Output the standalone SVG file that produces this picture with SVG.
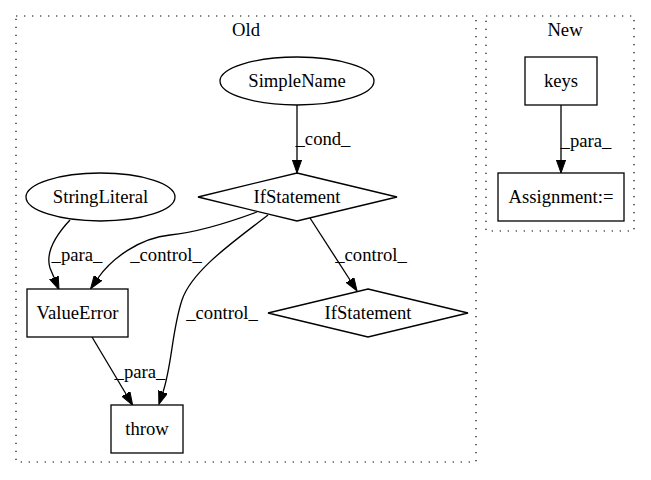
<svg xmlns="http://www.w3.org/2000/svg" width="651" height="480" viewBox="0 0 651 480">
<defs>
<marker id="arr" markerUnits="userSpaceOnUse" markerWidth="14" markerHeight="10" refX="0" refY="5" orient="auto" viewBox="0 0 14 10">
<path d="M0,0.4 L13,5 L0,9.6 z" fill="#000" stroke="#000" stroke-width="1"/>
</marker>
</defs>
<style>
.cl{fill:none;stroke:#000;stroke-width:1.2;stroke-dasharray:1.3,6.7}
.n{fill:#fff;stroke:#000;stroke-width:1.3}
.e{fill:none;stroke:#000;stroke-width:1.3;marker-end:url(#arr)}
</style>
<rect width="651" height="480" fill="#fff"/>
<g font-family="'Liberation Serif', 'Times New Roman', 'DejaVu Serif', serif" font-size="18.67" font-weight="normal" text-anchor="middle" fill="#000">
<g id="cluster_old">
<rect class="cl" x="16" y="16" width="460" height="446"/>
<text x="246" y="36">Old</text>
</g>
<g id="cluster_new">
<rect class="cl" x="486" y="16" width="148" height="215"/>
<text x="565" y="36">New</text>
</g>
<g id="edges">
<path class="e" d="M297,105 L297,160"/>
<text x="323" y="145">_cond_</text>
<path class="e" d="M70,220 C56,235 45,252 50,268 L54,277.6"/>
<text x="77" y="261">_para_</text>
<path class="e" d="M257,212 C230,222 200,232 170,235 C140,238 112,258 98,278"/>
<text x="166" y="261">_control_</text>
<path class="e" d="M268,215 C236,240 192,270 182,300 C172,330 172,365 163,392"/>
<text x="222" y="319">_control_</text>
<path class="e" d="M310,218 L350,280"/>
<text x="371" y="261">_control_</text>
<path class="e" d="M92,337 L126,394"/>
<text x="140" y="378">_para_</text>
<path class="e" d="M561,105 L561,160"/>
<text x="586" y="147">_para_</text>
</g>
<g id="SimpleName">
<ellipse class="n" cx="297" cy="81" rx="77" ry="24"/>
<text x="297" y="87">SimpleName</text>
</g>
<g id="IfStatement1">
<polygon class="n" points="297,173 397,197 297,221 198,197"/>
<text x="297" y="203">IfStatement</text>
</g>
<g id="StringLiteral">
<ellipse class="n" cx="100.5" cy="197" rx="74.5" ry="24"/>
<text x="100.5" y="203">StringLiteral</text>
</g>
<g id="ValueError">
<rect class="n" x="27" y="289" width="101" height="48"/>
<text x="77.5" y="319">ValueError</text>
</g>
<g id="IfStatement2">
<polygon class="n" points="368,289 468,313 368,337 268,313"/>
<text x="368" y="319">IfStatement</text>
</g>
<g id="throw">
<rect class="n" x="111" y="405" width="72" height="48"/>
<text x="147" y="435">throw</text>
</g>
<g id="keys">
<rect class="n" x="525" y="57" width="72" height="48"/>
<text x="561" y="87">keys</text>
</g>
<g id="Assignment">
<rect class="n" x="498" y="173" width="126" height="48"/>
<text x="561" y="203">Assignment:=</text>
</g>
</g>
</svg>
